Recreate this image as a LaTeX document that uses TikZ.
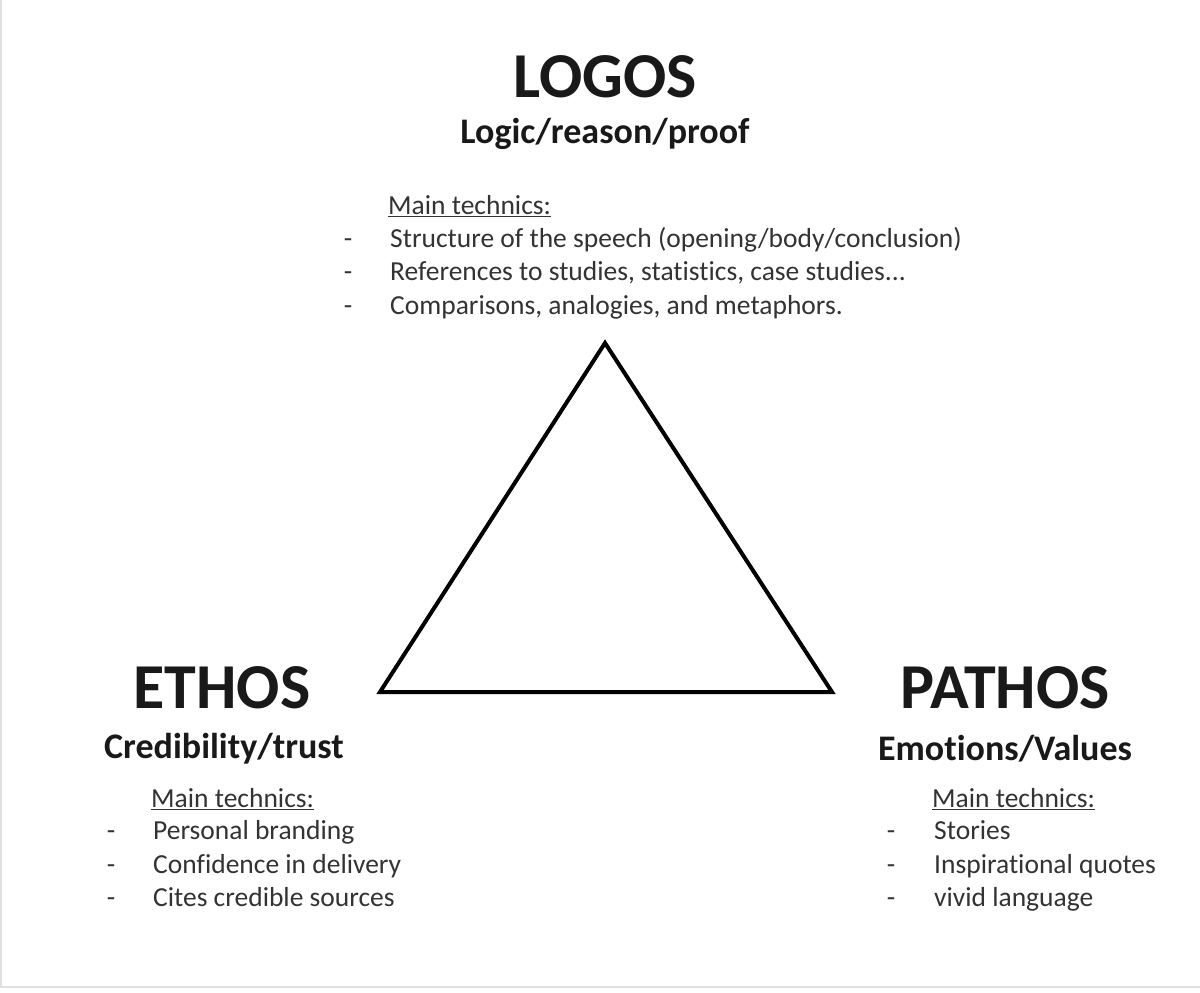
\documentclass[tikz,border=0pt]{standalone}
\usepackage{fontspec}
\setmainfont[Ligatures={NoCommon}]{Carlito}
\usetikzlibrary{positioning}

\begin{document}
\begin{tikzpicture}[x=1pt, y=-1pt,
  title/.style={font=\fontsize{64}{70}\selectfont\bfseries, text=black!90, inner sep=0pt},
  subtitle/.style={font=\fontsize{36}{40}\selectfont\bfseries, text=black!90, inner sep=0pt},
  item/.style={font=\fontsize{27.5}{30}\selectfont, text=black!80, anchor=west, inner sep=0pt,
    text height=1.7em, text depth=0.16em},
  dashmark/.style={item, anchor=center}]
\useasboundingbox (0,0) rectangle (1200,993);
\fill[white] (0,0) rectangle (1200,993);
\draw[black!12, line width=1.5pt] (1,0) -- (1,987) -- (1200,987);
% triangle
\draw[line width=4pt, line join=miter] (605,343) -- (380,692) -- (832,692) -- cycle;
% logos
\node[title] (logos) at (605,77) {LOGOS};
\node[subtitle] (logosSub) at (605,134) {Logic/reason/proof};
\node[item] (logosHead) at (388,207) {\underline{Main technics:}};
\node[item] (logosA) at (390,240) {Structure of the speech (opening/body/conclusion)};
\node[item] (logosB) at (390,273) {References to studies, statistics, case studies...};
\node[item] (logosC) at (390,307) {Comparisons, analogies, and metaphors.};
\node[dashmark] (logosDA) at (348,240) {-};
\node[dashmark] (logosDB) at (348,273) {-};
\node[dashmark] (logosDC) at (348,307) {-};
% ethos
\node[title] (ethos) at (222,688) {ETHOS};
\node[subtitle] (ethosSub) at (224,749) {Credibility/trust};
\node[item] (ethosHead) at (151,800) {\underline{Main technics:}};
\node[item] (ethosA) at (153,832) {Personal branding};
\node[item] (ethosB) at (153,866) {Confidence in delivery};
\node[item] (ethosC) at (153,899) {Cites credible sources};
\node[dashmark] (ethosDA) at (111,832) {-};
\node[dashmark] (ethosDB) at (111,866) {-};
\node[dashmark] (ethosDC) at (111,899) {-};
% pathos
\node[title] (pathos) at (1005,688) {PATHOS};
\node[subtitle] (pathosSub) at (1005,749) {Emotions/Values};
\node[item] (pathosHead) at (932,800) {\underline{Main technics:}};
\node[item] (pathosA) at (934,832) {Stories};
\node[item] (pathosB) at (934,866) {Inspirational quotes};
\node[item] (pathosC) at (934,899) {vivid language};
\node[dashmark] (pathosDA) at (891,832) {-};
\node[dashmark] (pathosDB) at (891,866) {-};
\node[dashmark] (pathosDC) at (891,899) {-};
\end{tikzpicture}
\end{document}
